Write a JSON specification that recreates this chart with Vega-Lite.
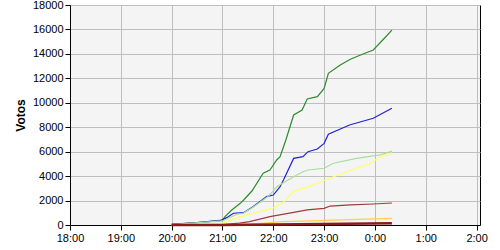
{
  "autosize": {"type": "none"},
  "width": 410,
  "height": 220,
  "padding": {"left": 70, "top": 5, "right": 20, "bottom": 25},
  "background": "white",
  "config": {
    "view": {"fill": "#F4F4F4", "stroke": "black", "strokeWidth": 1},
    "font": "Liberation Sans",
    "axis": {
      "labelFont": "Liberation Sans",
      "labelFontSize": 11,
      "labelColor": "black",
      "domainColor": "black",
      "tickColor": "black",
      "tickSize": 5,
      "gridColor": "#BEBEBE",
      "gridWidth": 1,
      "gridOpacity": 1
    }
  },
  "data": {
    "values": [
      {"s": "A", "t": "2024-01-01T20:00", "v": 50},
      {"s": "A", "t": "2024-01-01T20:30", "v": 200},
      {"s": "A", "t": "2024-01-01T21:00", "v": 400},
      {"s": "A", "t": "2024-01-01T21:03", "v": 680},
      {"s": "A", "t": "2024-01-01T21:11", "v": 1230},
      {"s": "A", "t": "2024-01-01T21:21", "v": 1775},
      {"s": "A", "t": "2024-01-01T21:25", "v": 2045},
      {"s": "A", "t": "2024-01-01T21:35", "v": 2800},
      {"s": "A", "t": "2024-01-01T21:48", "v": 4230},
      {"s": "A", "t": "2024-01-01T21:56", "v": 4500},
      {"s": "A", "t": "2024-01-01T22:04", "v": 5320},
      {"s": "A", "t": "2024-01-01T22:08", "v": 5590},
      {"s": "A", "t": "2024-01-01T22:15", "v": 7000},
      {"s": "A", "t": "2024-01-01T22:24", "v": 9000},
      {"s": "A", "t": "2024-01-01T22:34", "v": 9410},
      {"s": "A", "t": "2024-01-01T22:40", "v": 10310},
      {"s": "A", "t": "2024-01-01T22:52", "v": 10500},
      {"s": "A", "t": "2024-01-01T23:00", "v": 11180},
      {"s": "A", "t": "2024-01-01T23:05", "v": 12410},
      {"s": "A", "t": "2024-01-01T23:19", "v": 13090},
      {"s": "A", "t": "2024-01-01T23:31", "v": 13560},
      {"s": "A", "t": "2024-01-01T23:43", "v": 13910},
      {"s": "A", "t": "2024-01-01T23:58", "v": 14320},
      {"s": "A", "t": "2024-01-02T00:10", "v": 15200},
      {"s": "A", "t": "2024-01-02T00:20", "v": 15950},
      {"s": "B", "t": "2024-01-01T20:00", "v": 50},
      {"s": "B", "t": "2024-01-01T20:30", "v": 200},
      {"s": "B", "t": "2024-01-01T20:57", "v": 350},
      {"s": "B", "t": "2024-01-01T21:05", "v": 600},
      {"s": "B", "t": "2024-01-01T21:13", "v": 960},
      {"s": "B", "t": "2024-01-01T21:25", "v": 1010},
      {"s": "B", "t": "2024-01-01T21:36", "v": 1500},
      {"s": "B", "t": "2024-01-01T21:46", "v": 2000},
      {"s": "B", "t": "2024-01-01T21:52", "v": 2320},
      {"s": "B", "t": "2024-01-01T22:00", "v": 2450},
      {"s": "B", "t": "2024-01-01T22:08", "v": 3130},
      {"s": "B", "t": "2024-01-01T22:12", "v": 3680},
      {"s": "B", "t": "2024-01-01T22:24", "v": 5450},
      {"s": "B", "t": "2024-01-01T22:35", "v": 5590},
      {"s": "B", "t": "2024-01-01T22:41", "v": 6000},
      {"s": "B", "t": "2024-01-01T22:52", "v": 6220},
      {"s": "B", "t": "2024-01-01T23:00", "v": 6680},
      {"s": "B", "t": "2024-01-01T23:05", "v": 7420},
      {"s": "B", "t": "2024-01-01T23:30", "v": 8180},
      {"s": "B", "t": "2024-01-01T23:58", "v": 8730},
      {"s": "B", "t": "2024-01-02T00:20", "v": 9550},
      {"s": "C", "t": "2024-01-01T20:00", "v": 30},
      {"s": "C", "t": "2024-01-01T21:00", "v": 330},
      {"s": "C", "t": "2024-01-01T21:17", "v": 880},
      {"s": "C", "t": "2024-01-01T21:25", "v": 980},
      {"s": "C", "t": "2024-01-01T21:36", "v": 1450},
      {"s": "C", "t": "2024-01-01T21:46", "v": 1950},
      {"s": "C", "t": "2024-01-01T21:55", "v": 2400},
      {"s": "C", "t": "2024-01-01T22:04", "v": 3130},
      {"s": "C", "t": "2024-01-01T22:24", "v": 3950},
      {"s": "C", "t": "2024-01-01T22:35", "v": 4360},
      {"s": "C", "t": "2024-01-01T22:41", "v": 4500},
      {"s": "C", "t": "2024-01-01T23:00", "v": 4640},
      {"s": "C", "t": "2024-01-01T23:11", "v": 5050},
      {"s": "C", "t": "2024-01-01T23:38", "v": 5450},
      {"s": "C", "t": "2024-01-02T00:06", "v": 5730},
      {"s": "C", "t": "2024-01-02T00:20", "v": 6050},
      {"s": "D", "t": "2024-01-01T20:00", "v": 20},
      {"s": "D", "t": "2024-01-01T21:00", "v": 150},
      {"s": "D", "t": "2024-01-01T21:21", "v": 680},
      {"s": "D", "t": "2024-01-01T21:44", "v": 1090},
      {"s": "D", "t": "2024-01-01T22:00", "v": 1400},
      {"s": "D", "t": "2024-01-01T22:12", "v": 1850},
      {"s": "D", "t": "2024-01-01T22:24", "v": 2730},
      {"s": "D", "t": "2024-01-01T22:35", "v": 3000},
      {"s": "D", "t": "2024-01-01T22:47", "v": 3270},
      {"s": "D", "t": "2024-01-01T23:01", "v": 3680},
      {"s": "D", "t": "2024-01-01T23:27", "v": 4360},
      {"s": "D", "t": "2024-01-01T23:55", "v": 5050},
      {"s": "D", "t": "2024-01-02T00:06", "v": 5590},
      {"s": "D", "t": "2024-01-02T00:20", "v": 5900},
      {"s": "E", "t": "2024-01-01T20:00", "v": 0},
      {"s": "E", "t": "2024-01-01T21:00", "v": 30},
      {"s": "E", "t": "2024-01-01T21:20", "v": 150},
      {"s": "E", "t": "2024-01-01T21:32", "v": 270},
      {"s": "E", "t": "2024-01-01T21:56", "v": 680},
      {"s": "E", "t": "2024-01-01T22:24", "v": 1040},
      {"s": "E", "t": "2024-01-01T22:40", "v": 1230},
      {"s": "E", "t": "2024-01-01T23:00", "v": 1360},
      {"s": "E", "t": "2024-01-01T23:07", "v": 1550},
      {"s": "E", "t": "2024-01-01T23:31", "v": 1640},
      {"s": "E", "t": "2024-01-01T23:58", "v": 1720},
      {"s": "E", "t": "2024-01-02T00:20", "v": 1800},
      {"s": "F", "t": "2024-01-01T20:00", "v": 0},
      {"s": "F", "t": "2024-01-01T21:00", "v": 20},
      {"s": "F", "t": "2024-01-01T21:32", "v": 80},
      {"s": "F", "t": "2024-01-01T22:12", "v": 270},
      {"s": "F", "t": "2024-01-01T22:52", "v": 350},
      {"s": "F", "t": "2024-01-02T00:20", "v": 550},
      {"s": "G", "t": "2024-01-01T20:00", "v": 0},
      {"s": "G", "t": "2024-01-01T21:00", "v": 10},
      {"s": "G", "t": "2024-01-01T22:00", "v": 50},
      {"s": "G", "t": "2024-01-01T23:00", "v": 90},
      {"s": "G", "t": "2024-01-02T00:20", "v": 140}
    ]
  },
  "encoding": {
    "x": {
      "field": "t",
      "type": "temporal",
      "scale": {
        "domain": [
          {"year": 2024, "month": 1, "date": 1, "hours": 18, "minutes": 0},
          {"year": 2024, "month": 1, "date": 2, "hours": 2, "minutes": 4}
        ],
        "nice": false
      },
      "axis": {
        "title": null,
        "format": "%-H:%M",
        "labelPadding": 2,
        "labelFlush": false,
        "labelOverlap": false
      }
    },
    "y": {
      "field": "v",
      "type": "quantitative",
      "scale": {"domain": [0, 18000], "nice": false},
      "axis": {
        "title": "Votos",
        "titleFontSize": 12,
        "titleFontWeight": "bold",
        "titleColor": "black",
        "titlePadding": 5,
        "format": "d",
        "values": [0, 2000, 4000, 6000, 8000, 10000, 12000, 14000, 16000, 18000],
        "labelPadding": 2,
        "labelFlush": false
      }
    },
    "color": {
      "field": "s",
      "type": "nominal",
      "legend": null,
      "scale": {
        "domain": ["A", "B", "C", "D", "E", "F", "G"],
        "range": ["#2E8B2E", "#2323D2", "#A6E09C", "#FFFF66", "#A33A3A", "#FFCC55", "#8B1A1A"]
      }
    }
  },
  "layer": [
    {
      "transform": [{"filter": "datum.s !== 'G'"}],
      "mark": {"type": "line", "strokeWidth": 1.2}
    },
    {
      "transform": [{"filter": "datum.s === 'G'"}],
      "mark": {"type": "line", "strokeWidth": 2.5}
    }
  ]
}
